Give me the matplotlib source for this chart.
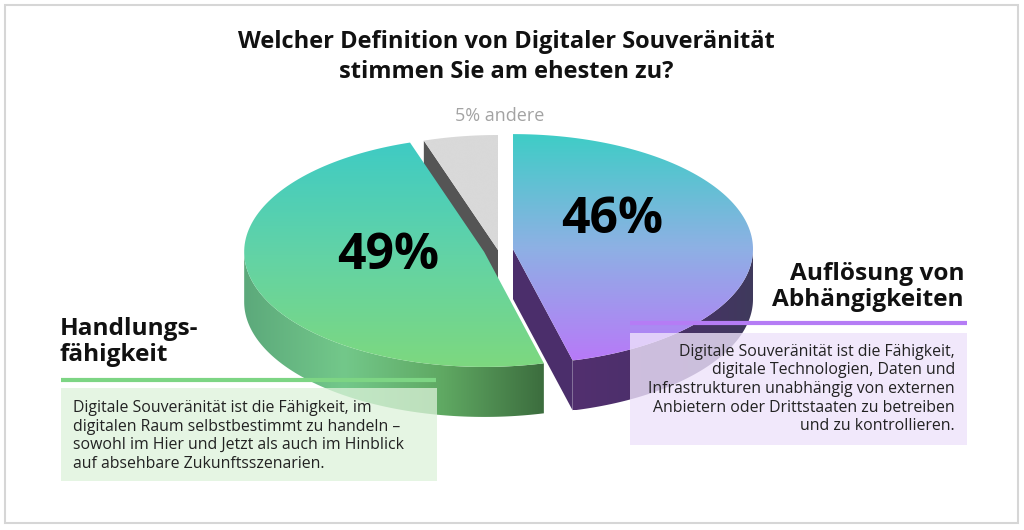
import numpy as np
import matplotlib
matplotlib.use("Agg")
import matplotlib.pyplot as plt
from matplotlib.patches import Polygon, Rectangle
from matplotlib.colors import LinearSegmentedColormap

plt.rcParams['font.family'] = ['Open Sans', 'DejaVu Sans']

# data (counter-clockwise from 12 o'clock)
categories = ['andere', 'Handlungsfähigkeit', 'Auflösung von Abhängigkeiten']
shares = [5, 49, 46]
pct_labels = ['5% andere', '49%', '46%']

title = 'Welcher Definition von Digitaler Souveränität\nstimmen Sie am ehesten zu?'
left_head = 'Handlungs-\nfähigkeit'
left_text = ('Digitale Souveränität ist die Fähigkeit, im\n'
             'digitalen Raum selbstbestimmt zu handeln –\n'
             'sowohl im Hier und Jetzt als auch im Hinblick\n'
             'auf absehbare Zukunftsszenarien.')
right_head = 'Auflösung von\nAbhängigkeiten'
right_text = ('Digitale Souveränität ist die Fähigkeit,\n'
              'digitale Technologien, Daten und\n'
              'Infrastrukturen unabhängig von externen\n'
              'Anbietern oder Drittstaaten zu betreiben\n'
              'und zu kontrollieren.')

# styling
cx0, cy0 = 498, 250
rx, ry, depth = 240, 115, 50
explode = [0.0, 0.06, 0.063]
top_colors = [['#D9D9D9', '#D9D9D9'],
              ['#3FCBC4', '#62D3A6', '#7DD87F'],
              ['#3ECDC6', '#8DB1E4', '#B77AF8']]
side_colors = [['#585858', '#585858'],
               ['#5CA97B', '#73C88A', '#5FA862', '#3C6D3E'],
               ['#52306F', '#4A2F6A', '#3F3A5C']]
face_colors = ['#555555', '#5CA97B', '#4B2E6B']
label_pos = [(500, 116), (388, 256), (612, 220)]

fig = plt.figure(figsize=(10.24, 5.30), dpi=100)
ax = fig.add_axes([0, 0, 1, 1])
ax.set_xlim(0, 1024)
ax.set_ylim(530, 0)
ax.axis('off')


def arc(cx, cy, a0, a1, n=120):
    t = np.radians(np.linspace(a0, a1, n))
    return np.column_stack([cx + rx * np.cos(t), cy - ry * np.sin(t)])


def grad_fill(xy, colors, horizontal=False, z=1):
    poly = Polygon(xy, closed=True, facecolor='none', edgecolor='none', zorder=z)
    ax.add_patch(poly)
    x0, y0 = xy.min(0)
    x1, y1 = xy.max(0)
    cmap = LinearSegmentedColormap.from_list('g', colors)
    g = np.linspace(0, 1, 256)
    arr = g[None, :] if horizontal else g[:, None]
    im = ax.imshow(arr, cmap=cmap, extent=(x0, x1, y1, y0), origin='upper',
                   aspect='auto', interpolation='bicubic', zorder=z)
    im.set_clip_path(poly)


bounds = 90 + 360 * np.concatenate([[0], np.cumsum(shares)]) / 100
draw_order = [0, 2, 1]
for k, i in enumerate(draw_order):
    a0, a1 = bounds[i], bounds[i + 1]
    m = np.radians((a0 + a1) / 2)
    cx = cx0 + explode[i] * rx * np.cos(m)
    cy = cy0 - explode[i] * ry * np.sin(m)
    z = 2 + k * 3
    down = np.array([0, depth])
    # radial faces
    for ang, nrm in [(a0, a0 - 90), (a1, a1 + 90)]:
        if np.sin(np.radians(nrm)) < -0.05:
            p = arc(cx, cy, ang, ang, 1)[0]
            c = np.array([cx, cy])
            face = np.array([c, p, p + down, c + down])
            ax.add_patch(Polygon(face, closed=True, facecolor=face_colors[i],
                                 edgecolor='none', zorder=z))
    # outer side (front half)
    for lo, hi in [(180, 360), (540, 720)]:
        s0, s1 = max(a0, lo), min(a1, hi)
        if s1 > s0:
            top = arc(cx, cy, s0, s1)
            side = np.vstack([top, top[::-1] + down])
            grad_fill(side, side_colors[i], horizontal=True, z=z + 1)
    # top face
    topface = np.vstack([[cx, cy], arc(cx, cy, a0, a1)])
    grad_fill(topface, top_colors[i], z=z + 2)

# labels on slices
ax.text(*label_pos[0], pct_labels[0], ha='center', va='center', fontsize=13,
        color='#A3A3A3', zorder=20)
for i in [1, 2]:
    ax.text(*label_pos[i], pct_labels[i], ha='center', va='center', fontsize=36,
            fontweight='bold', color='black', zorder=20)

# title
ax.text(506, 57, title, ha='center', va='center', fontsize=17,
        fontweight='bold', color='#111111', linespacing=1.3, zorder=20)

# left annotation
ax.text(60, 342, left_head, ha='left', va='center', fontsize=17.6,
        fontweight='bold', color='#111111', linespacing=1.15, zorder=20)
ax.plot([61, 436], [380, 380], color='#7DD584', lw=3, zorder=21,
        solid_capstyle='butt')
ax.add_patch(Rectangle((61, 388), 376, 93, facecolor='#DDF2DA', alpha=0.75,
                       edgecolor='none', zorder=19))
ax.text(73, 436, left_text, ha='left', va='center', fontsize=11.4,
        color='#222222', linespacing=1.22, zorder=21)

# right annotation
ax.text(964, 287, right_head, ha='right', va='center', fontsize=17.6,
        fontweight='bold', color='#111111', linespacing=1.15, zorder=20)
ax.plot([630, 967], [323, 323], color='#B57CF5', lw=3, zorder=21,
        solid_capstyle='butt')
ax.add_patch(Rectangle((630, 333), 337, 112, facecolor='#EEE3FB', alpha=0.8,
                       edgecolor='none', zorder=19))
ax.text(955, 389, right_text, ha='right', va='center', fontsize=11.4,
        color='#222222', linespacing=1.22, zorder=21)

# frame
ax.add_patch(Rectangle((5, 5), 1013, 518, facecolor='none', edgecolor='#D6D6D6',
                       lw=1.5, zorder=30))

fig.savefig('out.png', dpi=100)
